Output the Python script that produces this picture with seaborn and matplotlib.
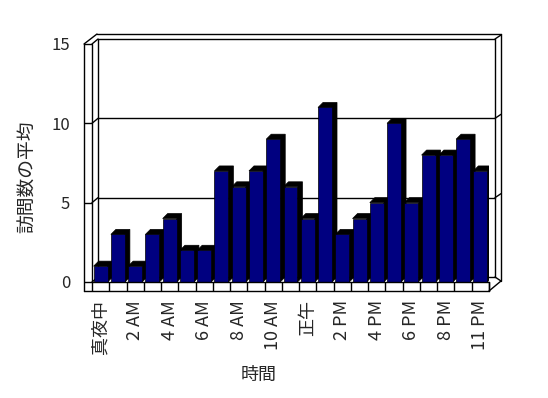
import matplotlib
matplotlib.use("Agg")
import matplotlib.pyplot as plt
from matplotlib.transforms import ScaledTranslation, IdentityTransform
from matplotlib.patches import Polygon
from matplotlib.lines import Line2D
from matplotlib.ticker import FixedLocator
import seaborn as sns
import pandas as pd

# ---- data ----
hours = ["真夜中", "1 AM", "2 AM", "3 AM", "4 AM", "5 AM", "6 AM", "7 AM",
         "8 AM", "9 AM", "10 AM", "11 AM", "正午", "1 PM", "2 PM", "3 PM",
         "4 PM", "5 PM", "6 PM", "7 PM", "8 PM", "9 PM", "11 PM"]
visits = [1, 3, 1, 3, 4, 2, 2, 7, 6, 7, 9, 6, 4, 11, 3, 4, 5, 10, 5, 8, 8, 9, 7]
y_ticks = [0, 5, 10, 15]
x_title = "時間"
y_title = "訪問数の平均"

sns.set_style("white")
plt.rcParams["font.family"] = ["Noto Sans CJK JP", "DejaVu Sans"]

DPI = 100
W, H = 548, 398
fig = plt.figure(figsize=(W / DPI, H / DPI), dpi=DPI)
fig.patch.set_facecolor("white")

# front plane of the 3-D box (pixels)
L, R, T, B = 92, 489, 44, 282
ax = fig.add_axes([L / W, 1 - B / H, (R - L) / W, (B - T) / H])
ax.set_facecolor("none")

df = pd.DataFrame({"hour": pd.Categorical(hours, categories=hours, ordered=True),
                   "visits": visits})
sns.barplot(data=df, x="hour", y="visits", color="#000080", saturation=1,
            width=0.81, ax=ax, edgecolor="black", linewidth=0.5)

n = len(hours)
x0, x1 = -0.5, n - 0.5
ax.set_xlim(x0, x1)
ax.set_ylim(0, 15)
for s in ax.spines.values():
    s.set_visible(False)

# ticks
ax.set_yticks(y_ticks)
ax.set_yticklabels([str(v) for v in y_ticks], fontsize=12)
ax.tick_params(axis="y", direction="out", length=8 * 72 / DPI, width=1,
               pad=14 * 72 / DPI, color="black", left=True)
ax.set_xticks(range(0, n, 2))
ax.set_xticklabels(hours[::2], rotation=90, fontsize=13)
ax.tick_params(axis="x", which="major", length=0, pad=18 * 72 / DPI)
ax.xaxis.set_minor_locator(FixedLocator([i - 0.5 for i in range(n + 1)]))
ax.tick_params(axis="x", which="minor", direction="out", length=9 * 72 / DPI,
               width=1, color="black", bottom=True)
ax.set_xlabel("")
ax.set_ylabel("")


def off(dx, dy):
    return ax.transData + ScaledTranslation(dx / DPI, -dy / DPI, fig.dpi_scale_trans)


def seg(p, q, dp=(0, 0), dq=(0, 0), z=0.5):
    tp = off(*dp).transform(p)
    tq = off(*dq).transform(q)
    ln = Line2D([tp[0], tq[0]], [tp[1], tq[1]], color="black", lw=1,
                transform=IdentityTransform(), zorder=z, clip_on=False)
    ax.add_artist(ln)


D = (6, -5)          # depth of back wall
OUT = (12, -10)      # outer back wall
LW = -8              # left wall thickness
FL = 9               # floor thickness

# back wall inner face + gridlines
for y in y_ticks:
    seg((x0, y), (x1, y), D, D)
    seg((x0, y), (x0, y), (0, 0), D)
    seg((x1, y), (x1, y), D, (12, -9 + (0 if y else 8)))
seg((x0, 0), (x0, 15), D, D)
seg((x1, 0), (x1, 15), D, D)
# outer back wall
seg((x0, 15), (x1, 15), (5, -10), OUT)
seg((x0, 15), (x0, 15), (LW, 0), (5, -10))
seg((x1, 15), (x1, 0), OUT, (12, -1))
# left wall
seg((x0, 15), (x0, 0), (LW, 0), (LW, FL))
seg((x0, 15), (x0, 0))
# floor
seg((x0, 0), (x1, 0), z=100)
seg((x0, 0), (x1, 0), (LW, FL), (0, FL), z=100)
seg((x1, 0), (x1, 0), (0, 0), (0, FL), z=100)
seg((x1, 0), (x1, 0), (0, FL), (12, -1), z=100)

fig.canvas.draw()

# 3-D sides/tops of bars
d = 5
for i, p in enumerate(ax.patches):
    bx0, by0 = p.get_x(), p.get_y()
    bx1, by1 = bx0 + p.get_width(), by0 + p.get_height()
    a = ax.transData.transform([(bx1, by0), (bx1, by1), (bx0, by1)])
    pts = [tuple(a[0]), tuple(a[1]), tuple(a[2]),
           (a[2][0] + d, a[2][1] + d), (a[1][0] + d, a[1][1] + d),
           (a[0][0] + d, a[0][1] + d)]
    poly = Polygon(pts, closed=True, facecolor="black", edgecolor="black",
                   lw=0.5, transform=IdentityTransform(), zorder=2 + 2 * i)
    ax.add_artist(poly)
    p.set_zorder(3 + 2 * i)

fig.text(28 / W, 1 - 177 / H, y_title, rotation=90, ha="center", va="center",
         fontsize=13.5)
fig.text(259 / W, 1 - 375 / H, x_title, ha="center", va="center", fontsize=13)

fig.savefig("out.png", dpi=DPI, facecolor="white")
